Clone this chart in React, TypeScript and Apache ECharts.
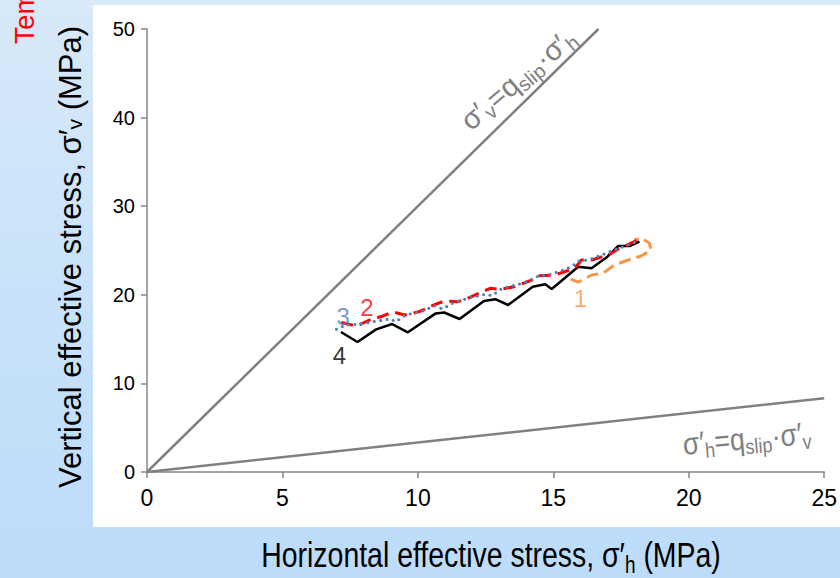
import React, { useEffect, useRef } from "react";
import * as echarts from "echarts";

// x / y axis extents and ticks
const xTicks = [0, 5, 10, 15, 20, 25];
const yTicks = [0, 10, 20, 30, 40, 50];
const qSlip = 3;

// Series 1 (orange, long dash)
const s1X = [15.64, 15.93, 16.41, 16.85, 17.25, 17.76, 18.24, 18.61, 18.54, 18.24, 17.99];
const s1Y = [21.78, 21.44, 22.23, 22.46, 23.36, 23.93, 24.38, 25.06, 25.85, 26.41, 26.19];

// Series 2 (red, dashed)
const s2X = [7.17, 7.72, 8.23, 8.71, 9.08, 9.52, 10.07, 10.62, 10.98, 11.46, 11.75, 12.38, 12.67, 13.04, 13.55, 14.21, 14.47, 15.05, 15.79, 16.04, 16.41, 17.03, 17.4, 17.77, 18.13];
const s2Y = [16.87, 16.48, 17.16, 17.61, 18.06, 17.72, 18.12, 18.9, 19.3, 19.22, 19.49, 20.35, 20.73, 20.62, 20.91, 21.67, 22.16, 22.23, 22.99, 23.93, 23.93, 24.49, 25.17, 25.7, 26.19];

// Series 3 (blue, dotted)
const s3X = [6.99, 7.35, 7.86, 8.34, 8.97, 9.19, 9.55, 10.18, 10.62, 10.91, 11.28, 11.64, 12.12, 12.49, 12.74, 13.11, 13.73, 14.1, 14.47, 14.83, 15.2, 15.68, 15.93, 16.3, 16.78, 17.25, 17.76, 18.13];
const s3Y = [16.11, 16.59, 16.67, 16.96, 17.27, 16.96, 17.72, 18.17, 18.74, 18.4, 19.04, 19.41, 19.79, 20.06, 19.9, 20.73, 21.19, 21.56, 22.16, 22.23, 22.61, 23.17, 23.81, 23.93, 24.49, 25.06, 25.62, 26.07];

// Series 4 (black, solid)
const s4X = [7.16, 7.77, 8.46, 9.05, 9.63, 10.66, 10.97, 11.54, 12.44, 12.86, 13.33, 14.24, 14.7, 14.94, 15.92, 16.41, 16.96, 17.39, 17.81, 18.18];
const s4Y = [15.8, 14.67, 16.1, 16.7, 15.77, 17.9, 18.0, 17.27, 19.3, 19.5, 18.85, 20.9, 21.2, 20.65, 23.17, 23.0, 24.2, 25.5, 25.5, 26.0];

// Series number labels
const labelNames = ["1", "2", "3", "4"];
const labelX = [16.0, 8.12, 7.24, 7.1];
const labelY = [19.6, 18.6, 17.6, 13.2];
const seriesColors = ["#f79646", "#ff0000", "#4f81bd", "#000000"];

const pairs = (xs: number[], ys: number[]) => xs.map((x, i) => [x, ys[i]]);

const SANS = "'Liberation Sans', Arial, sans-serif";
const NARROW = "'Liberation Sans Narrow', 'Arial Narrow', 'Liberation Sans', sans-serif";
const GRAY = "#808080";

export default function App() {
  const ref = useRef<HTMLDivElement>(null);
  useEffect(() => {
    if (!ref.current) return;
    const chart = echarts.init(ref.current, undefined, { renderer: "svg" });
    const xMax = xTicks[xTicks.length - 1];
    const yMax = yTicks[yTicks.length - 1];
    const option: any = {
      animation: false,
      backgroundColor: "transparent",
      grid: { left: 147, right: 10, top: 29, bottom: 106, containLabel: false },
      xAxis: {
        type: "value",
        min: xTicks[0],
        max: xMax,
        interval: 5,
        axisLine: { show: true, lineStyle: { color: "#868686", width: 1.5 } },
        axisTick: { show: true, length: 6, lineStyle: { color: "#868686", width: 1.5 } },
        splitLine: { show: false },
        axisLabel: { color: "#000", fontSize: 23, fontFamily: NARROW, margin: 14 },
      },
      yAxis: {
        type: "value",
        min: yTicks[0],
        max: yMax,
        interval: 10,
        axisLine: { show: true, lineStyle: { color: "#868686", width: 1.5 } },
        axisTick: { show: true, length: 6, lineStyle: { color: "#868686", width: 1.5 } },
        splitLine: { show: false },
        axisLabel: { color: "#000", fontSize: 20, fontFamily: SANS, margin: 12 },
      },
      series: [
        {
          type: "line",
          data: [[0, 0], [yMax / qSlip, yMax]],
          showSymbol: false,
          lineStyle: { color: GRAY, width: 2.5 },
          z: 1,
        },
        {
          type: "line",
          data: [[0, 0], [xMax, xMax / qSlip]],
          showSymbol: false,
          lineStyle: { color: GRAY, width: 2.5 },
          z: 1,
        },
        {
          type: "line",
          data: pairs(s4X, s4Y),
          showSymbol: false,
          lineStyle: { color: seriesColors[3], width: 2.5 },
          z: 3,
        },
        {
          type: "line",
          data: pairs(s1X, s1Y),
          showSymbol: false,
          lineStyle: { color: seriesColors[0], width: 3, type: [12, 6] },
          z: 4,
        },
        {
          type: "line",
          data: pairs(s2X, s2Y),
          showSymbol: false,
          lineStyle: { color: seriesColors[1], width: 3, type: [12, 7] },
          z: 5,
        },
        {
          type: "line",
          data: pairs(s3X, s3Y),
          showSymbol: false,
          lineStyle: { color: seriesColors[2], width: 3, type: [0.1, 6.4], cap: "round" },
          z: 6,
        },
        {
          type: "scatter",
          symbolSize: 0,
          z: 7,
          data: labelNames.map((n, i) => ({
            value: [labelX[i], labelY[i]],
            name: n,
            label: { color: seriesColors[i] },
          })),
          label: {
            show: true,
            position: "inside",
            formatter: (p: any) => p.name,
            fontSize: 24,
            fontFamily: NARROW,
          },
        },
      ],
      graphic: {
        elements: [
          {
            type: "rect",
            silent: true,
            z: -100,
            shape: { x: 93, y: 5, width: 760, height: 522 },
            style: { fill: "#ffffff" },
          },
          {
            type: "text",
            x: 38,
            y: 44,
            rotation: Math.PI / 2,
            z: 10,
            style: {
              text: "Temperature",
              fill: "#ff0000",
              fontSize: 28,
              fontFamily: SANS,
              align: "left",
              verticalAlign: "bottom",
            },
          },
          {
            type: "text",
            x: 70,
            y: 257,
            rotation: Math.PI / 2,
            z: 10,
            style: {
              text: "{a|Vertical effective stress, σ′}{s|v}{a| (MPa)}",
              align: "center",
              verticalAlign: "middle",
              rich: {
                a: { fontSize: 31, fontFamily: SANS, fill: "#000", verticalAlign: "top" },
                s: { fontSize: 21, fontFamily: SANS, fill: "#000", verticalAlign: "top", padding: [9, 0, 0, 0] },
              },
            },
          },
          {
            type: "text",
            x: 491,
            y: 557,
            z: 10,
            scaleX: 0.79,
            style: {
              text: "{a|Horizontal effective stress, σ′}{s|h}{a| (MPa)}",
              align: "center",
              verticalAlign: "middle",
              rich: {
                a: { fontSize: 36, fontFamily: SANS, fill: "#000", verticalAlign: "top" },
                s: { fontSize: 24, fontFamily: SANS, fill: "#000", verticalAlign: "top", padding: [16, 0, 0, 0] },
              },
            },
          },
          {
            type: "text",
            x: 519,
            y: 80,
            rotation: (40 * Math.PI) / 180,
            z: 10,
            style: {
              text: "{a|σ′}{s|v}{a|=q}{s|slip}{a|·σ′}{s|h}",
              align: "center",
              verticalAlign: "middle",
              rich: {
                a: { fontSize: 29, fontFamily: SANS, fill: GRAY, verticalAlign: "top" },
                s: { fontSize: 20, fontFamily: SANS, fill: GRAY, verticalAlign: "top", padding: [12, 0, 0, 0] },
              },
            },
          },
          {
            type: "text",
            x: 747,
            y: 440,
            rotation: (5 * Math.PI) / 180,
            z: 10,
            scaleX: 0.86,
            style: {
              text: "{a|σ′}{s|h}{a|=q}{s|slip}{a|·σ′}{s|v}",
              align: "center",
              verticalAlign: "middle",
              rich: {
                a: { fontSize: 31, fontFamily: SANS, fill: GRAY, verticalAlign: "top" },
                s: { fontSize: 21, fontFamily: SANS, fill: GRAY, verticalAlign: "top", padding: [13, 0, 0, 0] },
              },
            },
          },
        ],
      },
    };
    chart.setOption(option);
    return () => chart.dispose();
  }, []);
  return (
    <div
      style={{
        position: "fixed",
        left: 0,
        top: 0,
        width: 840,
        height: 578,
        background: "linear-gradient(180deg, #d8e9f8 0%, #c9e2f9 50%, #bcdcfa 100%)",
      }}
    >
      <div ref={ref} style={{ width: 840, height: 578 }} />
    </div>
  );
}
